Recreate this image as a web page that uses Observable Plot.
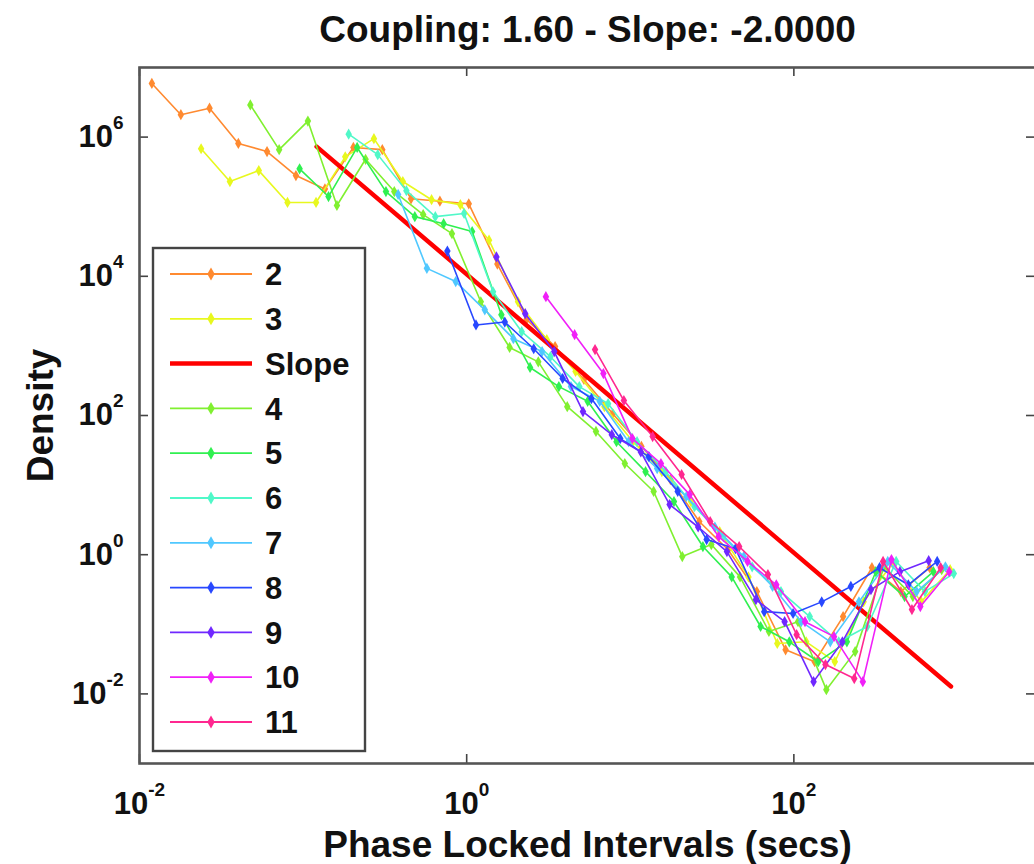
<!DOCTYPE html>
<html>
<head>
<meta charset="utf-8">
<script src="https://cdn.jsdelivr.net/npm/d3@7"></script>
<script src="https://cdn.jsdelivr.net/npm/@observablehq/plot@0.6"></script>
<style>
  html, body { margin: 0; padding: 0; background: #fff; overflow: hidden; }
  #chart svg { max-width: none !important; display: block; }
</style>
</head>
<body>
<div id="chart"></div>
<script>
// ---- Text ----
const title = "Coupling: 1.60 - Slope: -2.0000";
const xLabel = "Phase Locked Intervals (secs)";
const yLabel = "Density";

// ---- Ticks ----
const xTicks = [0.01, 1, 100];
const yTicks = [0.01, 1, 100, 1e4, 1e6];

// ---- Series ----
const seriesNames = ["2", "3", "4", "5", "6", "7", "8", "9", "10", "11"];
const seriesColors = ["#ff8a30", "#e8f81e", "#80f030", "#30f050", "#50f8c8", "#50c8ff", "#2848ff", "#7028ff", "#f020f8", "#ff2890"];
const legendLabels = ["2", "3", "Slope", "4", "5", "6", "7", "8", "9", "10", "11"];

const s2x = [0.0119, 0.0179, 0.0268, 0.0402, 0.0602, 0.0904, 0.136, 0.203, 0.305, 0.457, 0.686, 1.03, 1.54, 2.32, 3.47, 5.21, 7.82, 11.7, 17.6, 26.4, 39.6, 59.4, 89.0, 134, 200, 300, 451, 676];
const s2y = [5.9e6, 2.1e6, 2.6e6, 8.1e5, 6.2e5, 2.8e5, 1.8e5, 7.1e5, 6.6e5, 1.3e5, 1.2e5, 1.1e5, 1.5e4, 2400, 980, 330, 106, 36, 12, 3.0, 1.18, 0.295, 0.043, 0.029, 0.129, 0.65, 0.295, 0.65];

const s3x = [0.0238, 0.0357, 0.0536, 0.0803, 0.120, 0.181, 0.271, 0.407, 0.610, 0.915, 1.37, 2.06, 3.09, 4.63, 6.95, 10.4, 15.6, 23.5, 35.2, 52.8, 79.2, 119, 178, 267, 401, 601, 902];
const s3y = [6.8e5, 2.3e5, 3.3e5, 1.15e5, 1.15e5, 5.2e5, 9.5e5, 2.3e5, 1.26e5, 1.07e5, 3.3e4, 4300, 1230, 430, 134, 42, 15.6, 5.8, 2.15, 0.48, 0.053, 0.056, 0.029, 0.21, 0.75, 0.21, 0.61];

const s4x = [0.0476, 0.0714, 0.107, 0.161, 0.241, 0.361, 0.542, 0.813, 1.22, 1.83, 2.74, 4.12, 6.17, 9.26, 13.9, 20.8, 31.3, 46.9, 70.4, 106, 158, 237, 356, 534, 801];
const s4y = [2.9e6, 6.6e5, 1.7e6, 1.04e5, 4.8e5, 1.65e5, 7.7e4, 4.1e4, 4300, 950, 590, 134, 59, 20.4, 8.1, 0.94, 1.4, 0.48, 0.079, 0.109, 0.0115, 0.0405, 0.67, 0.25, 0.61];

const s5x = [0.0952, 0.143, 0.214, 0.321, 0.482, 0.723, 1.08, 1.63, 2.44, 3.66, 5.49, 8.24, 12.4, 18.5, 27.8, 41.7, 62.6, 93.8, 141, 211, 317, 475, 713];
const s5y = [3.5e5, 1.4e5, 7.1e5, 1.65e5, 7.2e4, 5.7e4, 4.4e4, 2800, 490, 260, 160, 42, 15.6, 5.8, 1.31, 0.48, 0.093, 0.056, 0.029, 0.056, 0.57, 0.25, 0.57];

const s6x = [0.190, 0.286, 0.428, 0.643, 0.964, 1.45, 2.17, 3.25, 4.88, 7.32, 11.0, 16.5, 24.7, 37.1, 55.6, 83.4, 125, 188, 281, 422, 633, 950];
const s6y = [1.1e6, 5.6e5, 1.7e5, 7.2e4, 8.0e4, 6000, 1600, 700, 260, 148, 42, 15.6, 4.9, 1.82, 0.67, 0.295, 0.129, 0.056, 0.093, 0.8, 0.295, 0.535];

const s7x = [0.381, 0.571, 0.857, 1.29, 1.93, 2.89, 4.34, 6.51, 9.76, 14.6, 22.0, 32.9, 49.4, 74.1, 111, 167, 250, 375, 563, 844];
const s7y = [1.5e5, 1.3e4, 8400, 3300, 1270, 830, 260, 160, 42, 17.3, 6.8, 2.5, 0.94, 0.35, 0.109, 0.056, 0.21, 0.8, 0.295, 0.67];

const s8x = [0.762, 1.14, 1.71, 2.57, 3.86, 5.79, 8.68, 13.0, 19.5, 29.3, 44.0, 65.9, 98.9, 148, 223, 334, 501, 752];
const s8y = [2.3e4, 2000, 2200, 910, 340, 175, 46.6, 25.6, 8.1, 1.65, 1.22, 0.152, 0.143, 0.21, 0.35, 0.65, 0.37, 0.8];

const s9x = [1.52, 2.28, 3.43, 5.14, 7.71, 11.6, 17.4, 26.0, 39.0, 58.6, 87.8, 132, 198, 296, 445, 667];
const s9y = [1.9e4, 2900, 830, 114, 53, 30, 5.25, 2.5, 1.11, 0.226, 0.109, 0.015, 0.056, 0.315, 0.57, 0.82];

const s10x = [3.05, 4.57, 6.85, 10.3, 15.4, 23.1, 34.7, 52.1, 78.1, 117, 176, 264, 395, 593, 890];
const s10y = [5100, 1450, 400, 46.6, 20.4, 7.3, 1.82, 0.8, 0.37, 0.109, 0.0665, 0.015, 0.85, 0.18, 0.57];

const s11x = [6.09, 9.14, 13.7, 20.6, 30.8, 46.3, 69.4, 104, 156, 234, 351, 527, 790];
const s11y = [885, 164, 49.8, 14.2, 3.0, 1.31, 0.518, 0.071, 0.0264, 0.0166, 0.8, 0.163, 0.65];

// Fitted slope line endpoints
const slopeX = [0.121, 913];
const slopeY = [7.3e5, 0.0128];
const slopeColor = "#ff0000";

// ---- Build table ----
const seriesX = [s2x, s3x, s4x, s5x, s6x, s7x, s8x, s9x, s10x, s11x];
const seriesY = [s2y, s3y, s4y, s5y, s6y, s7y, s8y, s9y, s10y, s11y];
const rows = [];
seriesNames.forEach((name, k) => {
  seriesX[k].forEach((x, i) => rows.push({series: name, x, y: seriesY[k][i]}));
});
const slopeRows = slopeX.map((x, i) => ({x, y: slopeY[i]}));

// ---- Layout ----
const W = 1040, H = 864;
const mL = 139, mR = 5, mT = 67, mB = 101;
const PW = W - mL - mR, PH = H - mT - mB;
const FONT = "'Liberation Sans', Arial, Helvetica, sans-serif";

function seriesMarks(name) {
  const d = rows.filter(r => r.series === name);
  return [
    Plot.line(d, {x: "x", y: "y", stroke: "series", strokeWidth: 1.6}),
    Plot.dot(d, {x: "x", y: "y", fill: "series", symbol: "diamond", r: 3.4})
  ];
}

const tickStyle = {stroke: "#444", strokeWidth: 1.6};
const expFmt = d => "10^" + Math.round(Math.log10(d));

const chart = Plot.plot({
  width: W, height: H,
  marginLeft: mL, marginRight: mR, marginTop: mT, marginBottom: mB,
  style: {fontFamily: FONT, background: "#fff", maxWidth: "none", overflow: "visible"},
  x: {type: "log", domain: [0.01, 3000], axis: null},
  y: {type: "log", domain: [1e-3, 1e7], axis: null},
  color: {type: "ordinal", domain: seriesNames, range: seriesColors},
  marks: [
    ...seriesMarks("2"),
    ...seriesMarks("3"),
    Plot.line(slopeRows, {x: "x", y: "y", stroke: slopeColor, strokeWidth: 4.5}),
    ...seriesNames.slice(2).flatMap(seriesMarks),
    // inward ticks on all four sides
    Plot.tickX(xTicks, {x: d => d, insetTop: PH - 9, ...tickStyle}),
    Plot.tickX(xTicks, {x: d => d, insetBottom: PH - 9, ...tickStyle}),
    Plot.tickY(yTicks, {y: d => d, insetRight: PW - 9, ...tickStyle}),
    Plot.tickY(yTicks, {y: d => d, insetLeft: PW - 9, ...tickStyle}),
    Plot.frame({stroke: "#555", strokeWidth: 2.6}),
    // tick labels
    Plot.text(xTicks, {x: d => d, frameAnchor: "bottom", lineAnchor: "middle", textAnchor: "middle", dy: 41, text: expFmt, fontSize: 31, fontWeight: "bold", fill: "#111"}),
    Plot.text(yTicks, {y: d => d, frameAnchor: "left", lineAnchor: "middle", dx: -16, textAnchor: "end", text: expFmt, fontSize: 31, fontWeight: "bold", fill: "#111"}),
    // titles
    Plot.text([title], {frameAnchor: "top", lineAnchor: "middle", textAnchor: "middle", dy: -37, fontSize: 37, fontWeight: "bold", fill: "#111"}),
    Plot.text([xLabel], {frameAnchor: "bottom", lineAnchor: "middle", textAnchor: "middle", dy: 82, fontSize: 37, fontWeight: "bold", fill: "#111"}),
    Plot.text([yLabel], {frameAnchor: "left", lineAnchor: "middle", textAnchor: "middle", dx: -98, rotate: -90, fontSize: 37, fontWeight: "bold", fill: "#111"})
  ]
});

// superscript exponents on tick labels
const NS = "http://www.w3.org/2000/svg";
chart.querySelectorAll("text").forEach(t => {
  if (t.children.length || !t.textContent.includes("^")) return;
  const [base, exp] = t.textContent.split("^");
  t.textContent = "";
  const b = document.createElementNS(NS, "tspan");
  b.textContent = base;
  t.appendChild(b);
  const e = document.createElementNS(NS, "tspan");
  e.textContent = exp;
  e.setAttribute("font-size", "19");
  e.setAttribute("dy", "-0.95em");
  t.appendChild(e);
});

// legend
const color = d3.scaleOrdinal(seriesNames, seriesColors);
const lg = d3.select(chart).append("g").attr("font-family", FONT).attr("text-anchor", "start");
const LX = 153, LY = 248, LW = 212, LH = 503, ROW0 = 274, ROWH = 44.8;
lg.append("rect").attr("x", LX).attr("y", LY).attr("width", LW).attr("height", LH)
  .attr("fill", "#fff").attr("stroke", "#444").attr("stroke-width", 2.4);
legendLabels.forEach((lab, i) => {
  const y = ROW0 + ROWH * i;
  const isSlope = lab === "Slope";
  const col = isSlope ? slopeColor : color(lab);
  lg.append("line").attr("x1", 170).attr("x2", 252).attr("y1", y).attr("y2", y)
    .attr("stroke", col).attr("stroke-width", isSlope ? 4.5 : 1.8);
  if (!isSlope) {
    lg.append("path").attr("d", d3.symbol(d3.symbolDiamond, 48)())
      .attr("transform", `translate(211,${y})`).attr("fill", col);
  }
  lg.append("text").attr("x", 265).attr("y", y).attr("dy", "0.36em")
    .attr("text-anchor", "start")
    .attr("font-size", 31).attr("font-weight", "bold").attr("fill", "#111").text(lab);
});

document.getElementById("chart").appendChild(chart);
</script>
</body>
</html>
